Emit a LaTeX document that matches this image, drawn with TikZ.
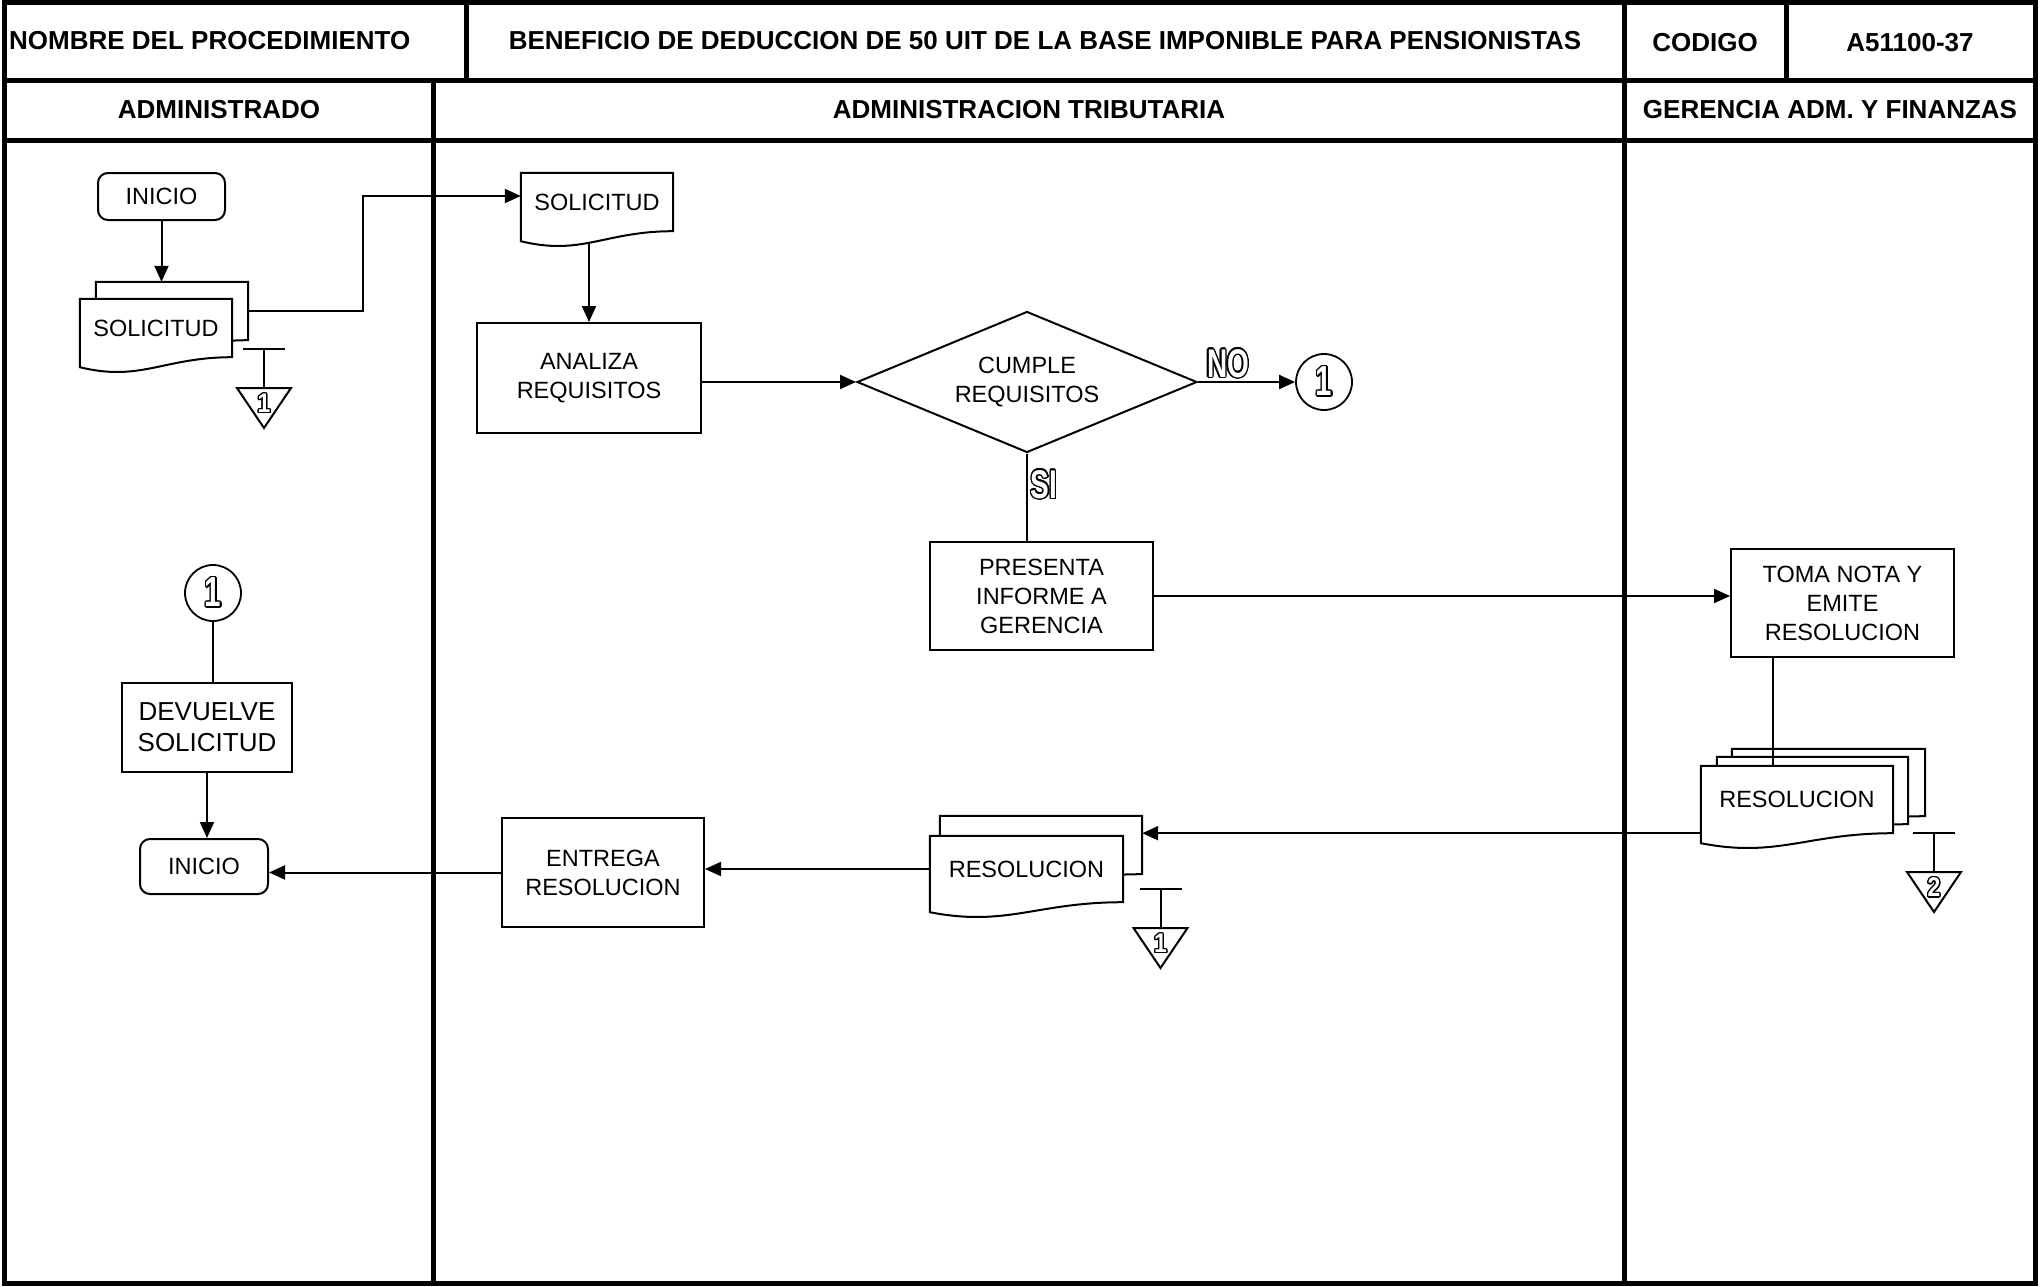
\documentclass[tikz,border=0pt]{standalone}
\usepackage{fontspec}
\setmainfont{Liberation Sans}
\newfontfamily\wordfont{Liberation Sans}[FakeStretch=0.7]
\newfontfamily\numfont{Liberation Sans}[FakeStretch=0.85]
\usepackage[copies]{contour}
\contourlength{1.3pt}
\usepackage{tikz}
\usetikzlibrary{shapes.geometric,arrows.meta,positioning,calc,backgrounds}

% outlined lettering
\newcommand{\wordart}[1]{{\color{white}\contour{black}{#1}}}
% page outline of a document node
\newcommand{\docpage}[1]{%
  \filldraw[docline] (#1.north west) -- (#1.north east) -- (#1.south east)
    .. controls ($(#1.south east)!0.45!(#1.south west)$) and ($(#1.south west)!0.4!(#1.south east)+(0,25)$)
    .. ($(#1.south west)+(0,10)$) -- cycle;}
% archive symbol
\newcommand{\archivo}[4]{%
  \coordinate (#1) at (#2,#3);
  \draw[link] ($(#1)+(-21,0)$) -- ($(#1)+(21,0)$);
  \draw[link] (#1) -- ($(#1)+(0,39)$);
  \draw[link] ($(#1)+(-27,39)$) -- ($(#1)+(27,39)$) -- ($(#1)+(0,79)$) -- cycle;
  \node[num] (#1n) at ($(#1)+(0,55)$) {\wordart{#4}};}

\begin{document}
\begin{tikzpicture}[
        x=1pt, y=-1pt,
        frame/.style={line width=5pt, line cap=rect},
        hdr/.style={font=\bfseries\fontsize{26}{30}\selectfont, inner sep=0pt},
        txt/.style={font=\fontsize{23.5}{29}\selectfont, align=center, inner sep=0pt},
        proc/.style={txt, rectangle, draw, line width=2pt},
        term/.style={proc, rounded corners=10pt},
        doc/.style={txt, rectangle},
        decision/.style={txt, diamond, draw, line width=2pt, aspect=2.4},
        conn/.style={circle, draw, line width=1.8pt, minimum size=56pt, inner sep=0pt, font=\wordfont\bfseries\fontsize{42}{44}\selectfont},
        tag/.style={font=\wordfont\bfseries\fontsize{40}{42}\selectfont, inner sep=0pt},
        num/.style={font=\numfont\bfseries\fontsize{27}{29}\selectfont, inner sep=0pt},
        docline/.style={line width=2pt, fill=white, draw=black},
        link/.style={line width=2pt},
        flow/.style={link, -{Triangle[length=16pt,width=14pt]}}
    ]
        \useasboundingbox (0,0) rectangle (2040,1287);

        % Frame and lanes
        \draw[frame] (4,3) rectangle (2035,1283);
        \draw[frame] (4,81) -- (2035,81);
        \draw[frame] (4,141) -- (2035,141);
        \foreach \x in {466,1624,1786} \draw[frame] (\x,3) -- (\x,81);
        \foreach \x in {433,1624} \draw[frame] (\x,81) -- (\x,1283);

        % Headers
        \node[hdr, anchor=west] (hNombre) at (9,41) {NOMBRE DEL PROCEDIMIENTO};
        \node[hdr] (hTitulo) at (1045,41) {BENEFICIO DE DEDUCCION DE 50 UIT DE LA BASE IMPONIBLE PARA PENSIONISTAS};
        \node[hdr] (hCodigo) at (1705,43) {CODIGO};
        \node[hdr] (hNumero) at (1910,43) {A51100-37};
        \node[hdr] (hAdm) at (219,110) {ADMINISTRADO};
        \node[hdr] (hTrib) at (1029,110) {ADMINISTRACION TRIBUTARIA};
        \node[hdr] (hGer) at (1830,110) {GERENCIA ADM. Y FINANZAS};

        % Nodes
        \node[term, minimum width=127pt, minimum height=47pt] (ini1) at (161.5,196.5) {INICIO};
        \node[doc, minimum width=152pt, minimum height=58pt] (solAb) at (172,311) {};
        \node[doc, minimum width=152pt, minimum height=58pt] (solA) at (156,328) {SOLICITUD};
        \node[doc, minimum width=152pt, minimum height=58pt] (solB) at (597,202) {SOLICITUD};
        \node[proc, minimum width=224pt, minimum height=110pt] (ana) at (589,378) {ANALIZA\\REQUISITOS};
        \node[decision, minimum width=340pt, minimum height=141pt] (dia) at (1027,382) {CUMPLE\\REQUISITOS};
        \node[conn] (c1) at (1324,382) {\wordart{1}};
        \node[proc, minimum width=223pt, minimum height=108pt] (pre) at (1041.5,596) {PRESENTA\\INFORME A\\GERENCIA};
        \node[proc, minimum width=223pt, minimum height=108pt] (toma) at (1842.5,603) {TOMA NOTA Y\\EMITE\\RESOLUCION};
        \node[doc, minimum width=193pt, minimum height=67pt] (resCb) at (1828.5,782.5) {};
        \node[doc, minimum width=191pt, minimum height=67pt] (resCm) at (1812.5,790.5) {};
        \node[doc, minimum width=192pt, minimum height=67pt] (resC) at (1797,799.5) {RESOLUCION};
        \node[doc, minimum width=202pt, minimum height=58pt] (resBb) at (1041,845) {};
        \node[doc, minimum width=193pt, minimum height=66pt] (resB) at (1026.5,869) {RESOLUCION};
        \node[proc, minimum width=202pt, minimum height=109pt] (ent) at (603,872.5) {ENTREGA\\RESOLUCION};
        \node[term, minimum width=128pt, minimum height=55pt] (ini2) at (204,866.5) {INICIO};
        \node[conn] (c2) at (213,593) {\wordart{1}};
        \node[proc, minimum width=170pt, minimum height=89pt, font=\fontsize{26}{31}\selectfont] (dev) at (207,727.5) {DEVUELVE\\SOLICITUD};

        % Document pages
        \begin{scope}[on background layer]
            \docpage{solAb} \docpage{solA} \docpage{solB}
            \docpage{resCb} \docpage{resCm} \docpage{resC}
            \docpage{resBb} \docpage{resB}
        \end{scope}

        % Edges
        \coordinate (jog) at (363,196);
        \draw[flow] (ini1) -- (ini1 |- solAb.north);
        \draw[flow] (solAb.east) -| (jog) -- (jog -| solB.west);
        \draw[flow] ($(ana.north |- solB.south)+(0,12)$) -- (ana.north);
        \draw[flow] (ana.east |- dia.west) -- (dia.west);
        \draw[flow] (dia.east) -- (c1);
        \node[tag] (lblNo) at (1228,364) {\wordart{NO}};
        \draw[link] (dia.south) -- (dia.south |- pre.north);
        \node[tag] (lblSi) at (1044,485) {\wordart{SI}};
        \draw[flow] (pre.east) -- (pre.east -| toma.west);
        \coordinate (tomaOut) at ($(toma.south west)!0.19!(toma.south east)$);
        \draw[link] (tomaOut) -- (tomaOut |- resC.north);
        \draw[flow] (resC.south west) -- (resC.south west -| resBb.east);
        \draw[flow] (resB.west) -- (resB.west -| ent.east);
        \draw[flow] (ent.west) -- (ent.west -| ini2.east);
        \draw[link] (c2) -- (c2 |- dev.north);
        \draw[flow] (dev.south) -- (dev.south |- ini2.north);

        % Archive marks
        \archivo{arcA}{264}{349}{1}
        \archivo{arcB}{1160.5}{889}{1}
        \archivo{arcC}{1934}{833}{2}
    \end{tikzpicture}
\end{document}
